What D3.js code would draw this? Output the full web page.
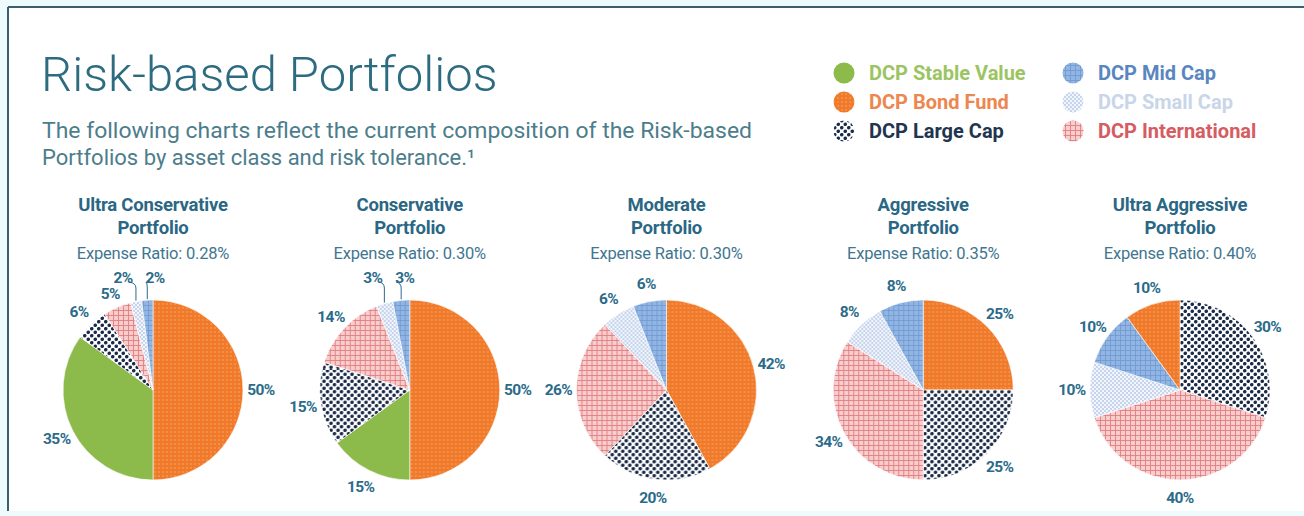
<!DOCTYPE html>
<html><head><meta charset="utf-8">
<script src="https://cdn.jsdelivr.net/npm/d3@7"></script>
<style>
html,body{margin:0;padding:0;background:#eefbfd;}
svg{display:block;}
</style></head>
<body>
<svg id="chart" width="1304" height="516"></svg>
<script>
// ---------- data ----------
const portfolioNames = ["Ultra Conservative", "Conservative", "Moderate", "Aggressive", "Ultra Aggressive"];
const expenseRatios = ["0.28%", "0.30%", "0.30%", "0.35%", "0.40%"];
// slice order clockwise (cyclic)
const categories = ["DCP Bond Fund", "DCP Stable Value", "DCP Large Cap", "DCP International", "DCP Small Cap", "DCP Mid Cap"];
const bondFund      = [50, 50, 42, 25, 10];
const stableValue   = [35, 15, 0, 0, 0];
const largeCap      = [6, 15, 20, 25, 30];
const international = [5, 14, 26, 34, 40];
const smallCap      = [2, 3, 6, 8, 10];
const midCap        = [2, 3, 6, 8, 10];
// which slice starts at 12 o'clock in each pie
const firstSlice = ["DCP Bond Fund", "DCP Bond Fund", "DCP Bond Fund", "DCP Bond Fund", "DCP Large Cap"];
const legendCol1 = ["DCP Stable Value", "DCP Bond Fund", "DCP Large Cap"];
const legendCol2 = ["DCP Mid Cap", "DCP Small Cap", "DCP International"];
const subtitleLines = ["The following charts reflect the current composition of the Risk-based",
                       "Portfolios by asset class and risk tolerance.\u00B9"];

const seriesByCat = {
  "DCP Bond Fund": bondFund, "DCP Stable Value": stableValue, "DCP Large Cap": largeCap,
  "DCP International": international, "DCP Small Cap": smallCap, "DCP Mid Cap": midCap
};

// ---------- styles ----------
const patId = {
  "DCP Bond Fund": "pBond", "DCP Stable Value": null, "DCP Large Cap": "pLarge",
  "DCP International": "pIntl", "DCP Small Cap": "pSmall", "DCP Mid Cap": "pMid"
};
const legendText = {
  "DCP Stable Value": "#9cc463", "DCP Bond Fund": "#ec8750", "DCP Large Cap": "#1f3550",
  "DCP Mid Cap": "#5a86bf", "DCP Small Cap": "#c9d5e8", "DCP International": "#d55c62"
};
const fillOf = c => patId[c] ? `url(#${patId[c]})` : "#8cba4b";
const labelColor = "#2b6b8a";

const svg = d3.select("#chart");
const W = 1304, H = 516;

// ---------- patterns ----------
const defs = svg.append("defs");
function pattern(id, size, bg, draw) {
  const p = defs.append("pattern").attr("id", id).attr("patternUnits", "userSpaceOnUse")
    .attr("width", size).attr("height", size);
  p.append("rect").attr("width", size).attr("height", size).attr("fill", bg);
  draw(p, size);
}
pattern("pBond", 4, "#f07a2a", (p) => {
  p.append("circle").attr("cx", 2).attr("cy", 2).attr("r", 0.8).attr("fill", "#f9aa70");
});
pattern("pLarge", 7, "#ffffff", (p) => {
  p.append("circle").attr("cx", 1.75).attr("cy", 1.75).attr("r", 1.8).attr("fill", "#1c2b47");
  p.append("circle").attr("cx", 5.25).attr("cy", 5.25).attr("r", 1.8).attr("fill", "#1c2b47");
});
pattern("pIntl", 5, "#f8cdcd", (p, s) => {
  p.append("line").attr("x1", 0.5).attr("x2", 0.5).attr("y1", 0).attr("y2", s).attr("stroke", "#e27e80").attr("stroke-width", 0.9);
  p.append("line").attr("y1", 0.5).attr("y2", 0.5).attr("x1", 0).attr("x2", s).attr("stroke", "#e27e80").attr("stroke-width", 0.9);
});
pattern("pSmall", 4, "#f1f5fc", (p) => {
  p.append("circle").attr("cx", 1).attr("cy", 1).attr("r", 0.9).attr("fill", "#b3c4e4");
  p.append("circle").attr("cx", 3).attr("cy", 3).attr("r", 0.9).attr("fill", "#b3c4e4");
});
pattern("pMid", 5, "#92b6e4", (p, s) => {
  p.append("line").attr("x1", 0.5).attr("x2", 0.5).attr("y1", 0).attr("y2", s).attr("stroke", "#6f98d2").attr("stroke-width", 0.8);
  p.append("line").attr("y1", 0.5).attr("y2", 0.5).attr("x1", 0).attr("x2", s).attr("stroke", "#6f98d2").attr("stroke-width", 0.8);
});

// ---------- frame ----------
svg.append("rect").attr("x", 0).attr("y", 0).attr("width", W).attr("height", H).attr("fill", "#eefbfd");
svg.append("rect").attr("x", 8).attr("y", 7).attr("width", W - 8).attr("height", 504).attr("fill", "#ffffff");
svg.append("line").attr("x1", 8).attr("x2", W).attr("y1", 7).attr("y2", 7).attr("stroke", "#3f5e6c").attr("stroke-width", 2);
svg.append("line").attr("x1", 8).attr("x2", 8).attr("y1", 7).attr("y2", 511).attr("stroke", "#3f5e6c").attr("stroke-width", 2);

// ---------- title ----------
svg.append("text").attr("x", 41).attr("y", 91)
  .attr("font-family", "Roboto").attr("font-weight", 300).attr("font-size", 49)
  .attr("fill", "#2d6c80").text("Risk-based Portfolios");
const sub = svg.append("text").attr("font-family", "Roboto").attr("font-size", 22)
  .attr("fill", "#4c7d8b");
sub.append("tspan").attr("x", 42).attr("y", 138).attr("textLength", 710).attr("lengthAdjust", "spacingAndGlyphs").text(subtitleLines[0]);
sub.append("tspan").attr("x", 42).attr("y", 165).attr("textLength", 433).attr("lengthAdjust", "spacingAndGlyphs").text(subtitleLines[1]);

// ---------- legend ----------
function legendColumn(items, x0) {
  const y = d3.scalePoint().domain(items).range([73, 131]);
  const g = svg.append("g");
  items.forEach(c => {
    g.append("circle").attr("cx", x0).attr("cy", y(c)).attr("r", 10.5).attr("fill", fillOf(c));
    g.append("text").attr("x", x0 + 25).attr("y", y(c)).attr("dy", "0.36em")
      .attr("font-family", "Roboto").attr("font-weight", 700).attr("font-size", 20)
      .attr("fill", legendText[c]).text(c);
  });
}
legendColumn(legendCol1, 844);
legendColumn(legendCol2, 1073);

// ---------- pies ----------
const xPos = d3.scalePoint().domain(portfolioNames).range([153, 1180]);
const cy = 390, R = 90;
const arc = d3.arc().innerRadius(0).outerRadius(R);
const LW = 9, LH = 15; // approx label glyph width per char / height

function overlaps(p, q) {
  const pw = p.text.length * LW, qw = q.text.length * LW;
  return Math.abs(p.x - q.x) < (pw + qw) / 2 + 2 && Math.abs(p.y - q.y) < LH;
}

portfolioNames.forEach((name, i) => {
  const cx = xPos(name);
  const g = svg.append("g").attr("transform", `translate(${cx},${cy})`);

  // titles
  const t = svg.append("g").attr("font-family", "Roboto").attr("text-anchor", "middle").attr("fill", "#2a6784");
  t.append("text").attr("x", cx).attr("y", 211).attr("font-weight", 700).attr("font-size", 18.5).attr("letter-spacing", -0.2).text(name);
  t.append("text").attr("x", cx).attr("y", 234).attr("font-weight", 700).attr("font-size", 18.5).attr("letter-spacing", -0.2).text("Portfolio");
  t.append("text").attr("x", cx).attr("y", 259).attr("font-size", 16.5).attr("letter-spacing", -0.2).attr("fill", "#3f7690").text("Expense Ratio: " + expenseRatios[i]);

  // data for this pie, rotated so firstSlice is at 12 o'clock
  const startIdx = categories.indexOf(firstSlice[i]);
  const ordered = categories.slice(startIdx).concat(categories.slice(0, startIdx));
  const data = ordered.map(c => ({ cat: c, value: seriesByCat[c][i] })).filter(d => d.value > 0);
  const arcs = d3.pie().sort(null).value(d => d.value)(data);

  g.selectAll("path").data(arcs).join("path")
    .attr("d", arc).attr("fill", d => fillOf(d.data.cat))
    .attr("stroke", "#ffffff").attr("stroke-width", 0.6);

  // labels
  const labels = arcs.map(a => {
    const mid = (a.startAngle + a.endAngle) / 2;
    const small = a.data.value < 4;
    const rr = small ? R + 22 : R + 18;
    return { a, mid, small, x: Math.sin(mid) * rr, y: -Math.cos(mid) * rr, text: a.data.value + "%" };
  });
  // spread small labels horizontally so they don't overlap
  const smalls = labels.filter(l => l.small).sort((p, q) => p.x - q.x);
  for (let k = 1; k < smalls.length; k++) {
    const gap = smalls[k].x - smalls[k - 1].x;
    if (gap < 32) {
      const push = (32 - gap) / 2;
      smalls[k - 1].x -= push; smalls[k].x += push;
    }
  }
  smalls.forEach(l => { l.y = -R - 22; });
  // pull regular labels closer/lower if they collide with the small ones
  labels.filter(l => !l.small).forEach(l => {
    let rr = R + 18;
    while (smalls.some(s => overlaps(l, s)) && rr > R + 4) {
      rr -= 1;
      l.x = Math.sin(l.mid) * rr - (R + 18 - rr) * 0.3;
      l.y = -Math.cos(l.mid) * rr + (R + 18 - rr) * 0.4;
    }
  });

  labels.forEach(l => {
    if (l.small) {
      const ex = Math.sin(l.mid) * (R + 1), ey = -Math.cos(l.mid) * (R + 1);
      const lx = l.x < ex ? l.x + 6 : l.x - 9;
      g.append("path")
        .attr("d", `M${ex},${ey} L${ex},${l.y + 10} Q${ex},${l.y + 5} ${lx},${l.y + 4}`)
        .attr("fill", "none").attr("stroke", labelColor).attr("stroke-width", 1);
    }
    g.append("text").attr("x", l.x).attr("y", l.y).attr("dy", "0.35em")
      .attr("text-anchor", "middle").attr("font-family", "Roboto").attr("font-weight", 700)
      .attr("font-size", 15.5).attr("letter-spacing", -0.6).attr("fill", labelColor).text(l.text);
  });
});
</script>
</body></html>
